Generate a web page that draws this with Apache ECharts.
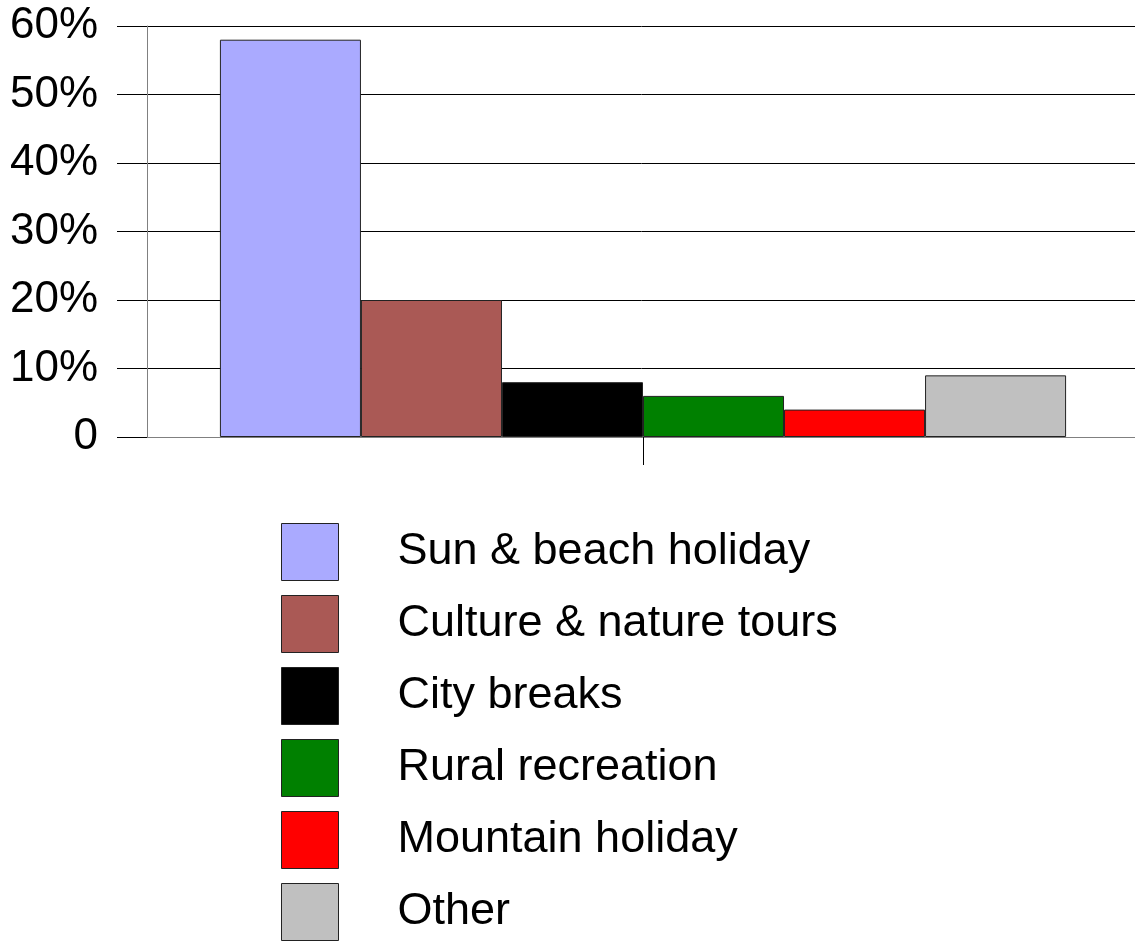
<!DOCTYPE html>
<html>
<head>
<meta charset="utf-8">
<script src="https://cdn.jsdelivr.net/npm/echarts@6/dist/echarts.min.js"></script>
<style>
    html, body {margin: 0; padding: 0; background: #fff;}
    #chart {width: 1135px; height: 941px;}
</style>
</head>
<body>
<div id="chart"></div>
<script>
// data
let seriesNames = ['Sun & beach holiday', 'Culture & nature tours', 'City breaks',
    'Rural recreation', 'Mountain holiday', 'Other']
let seriesValues = [58, 20, 8, 6, 4, 9]
let seriesColors = ['#aaaaff', '#aa5955', '#000000', '#008000', '#ff0000', '#c0c0c0']
let categories = ['']
let yTicks = [0, 10, 20, 30, 40, 50, 60]

let font = 'Liberation Sans, Arial, sans-serif'

let series = seriesNames.map((name, i) => ({
    name: name,
    type: 'bar',
    data: [seriesValues[i]],
    barGap: '0%',
    barCategoryGap: '14.7%',
    itemStyle: {color: seriesColors[i], borderColor: '#222', borderWidth: 1},
}))

let chartInst = echarts.init(document.getElementById('chart'), null, {renderer: 'canvas'})
chartInst.setOption({
    animation: false,
    backgroundColor: '#fff',
    // plot runs a few px past the right edge, so bounds clamping is switched off
    grid: {left: 147, width: 992, top: 26, height: 411, outerBoundsMode: 'none'},
    xAxis: {
        type: 'category',
        data: categories,
        axisLine: {lineStyle: {color: '#808080', width: 1}},
        axisTick: {show: true, alignWithLabel: true, length: 28, lineStyle: {color: '#000'}},
        axisLabel: {show: false},
    },
    yAxis: {
        type: 'value',
        min: yTicks[0],
        max: yTicks[yTicks.length - 1],
        interval: 10,
        axisLine: {show: true, lineStyle: {color: '#808080', width: 1}},
        axisTick: {show: true, length: 30, lineStyle: {color: '#000'}},
        splitLine: {lineStyle: {color: '#000', width: 1}},
        axisLabel: {
            margin: 49,
            color: '#000',
            fontFamily: font,
            fontSize: 44,
            formatter: v => v === 0 ? '0' : v + '%',
        },
    },
    legend: {
        orient: 'vertical',
        left: 281,
        top: 523,
        height: 420,
        padding: 0,
        itemWidth: 57,
        itemHeight: 57,
        itemGap: 14,
        icon: 'rect',
        itemStyle: {borderColor: '#222', borderWidth: 1},
        textStyle: {
            color: '#000',
            fontFamily: font,
            fontSize: 45,
            padding: [10, 0, 0, 54],
        },
        data: seriesNames,
    },
    series: series,
})
</script>
</body>
</html>
